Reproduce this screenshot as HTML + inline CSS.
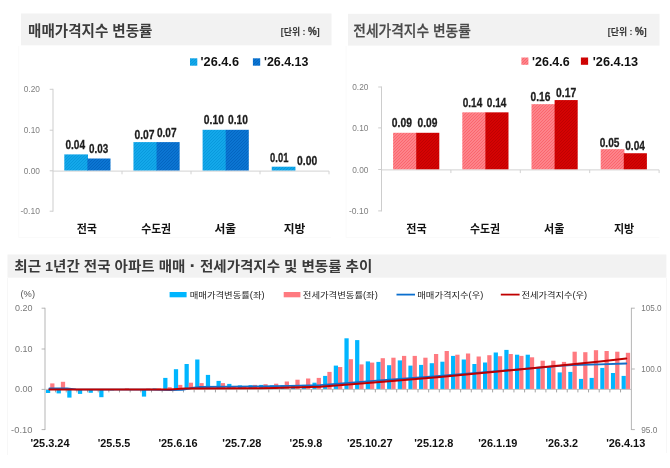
<!DOCTYPE html>
<html lang="ko"><head><meta charset="utf-8"><title>주간 아파트 가격 동향</title>
<style>
html,body{margin:0;padding:0;background:#fff;}
body{width:670px;height:468px;overflow:hidden;font-family:"Liberation Sans","Noto Sans CJK KR",sans-serif;}
svg{display:block;filter:blur(0.35px);}
svg text{font-family:"Liberation Sans","Noto Sans CJK KR",sans-serif;}
</style></head><body>
<svg width="670" height="468" viewBox="0 0 670 468">
<defs>
<pattern id="hb1" width="6" height="6" patternUnits="userSpaceOnUse"><rect width="6" height="6" fill="#17aef0"/><path d="M-1 1L1 -1M-1 4L4 -1M-1 7L7 -1M2 7L7 2M5 7L7 5" stroke="#0898dc" stroke-width="1.06" fill="none"/></pattern>
<pattern id="hb2" width="6" height="6" patternUnits="userSpaceOnUse"><rect width="6" height="6" fill="#0e7bda"/><path d="M-1 1L1 -1M-1 4L4 -1M-1 7L7 -1M2 7L7 2M5 7L7 5" stroke="#0364c0" stroke-width="1.06" fill="none"/></pattern>
<pattern id="hr1" width="6" height="6" patternUnits="userSpaceOnUse"><rect width="6" height="6" fill="#ff9096"/><path d="M-1 1L1 -1M-1 4L4 -1M-1 7L7 -1M2 7L7 2M5 7L7 5" stroke="#fa636b" stroke-width="1.06" fill="none"/></pattern>
<pattern id="hr2" width="6" height="6" patternUnits="userSpaceOnUse"><rect width="6" height="6" fill="#de0404"/><path d="M-1 1L1 -1M-1 4L4 -1M-1 7L7 -1M2 7L7 2M5 7L7 5" stroke="#be0000" stroke-width="1.06" fill="none"/></pattern>
</defs>
<rect width="670" height="468" fill="#fff"/>
<rect x="21" y="13.5" width="310.5" height="31.8" fill="#f2f2f2"/>
<rect x="348" y="13.8" width="311.5" height="31.8" fill="#f2f2f2"/>
<rect x="7.5" y="254.5" width="658.9" height="23.2" fill="#f2f2f2"/>
<text x="28" y="35.9" font-size="15.2" fill="#3c3c3c" font-weight="bold" text-anchor="start" textLength="124.5" lengthAdjust="spacingAndGlyphs" >매매가격지수 변동률</text>
<text x="353.3" y="35.9" font-size="14.5" fill="#4a4a4a" font-weight="500" text-anchor="start" textLength="117.5" lengthAdjust="spacingAndGlyphs" stroke="#4a4a4a" stroke-width="0.25">전세가격지수 변동률</text>
<text x="280.8" y="35.3" font-size="9.5" fill="#333" font-weight="bold" text-anchor="start" textLength="39" lengthAdjust="spacingAndGlyphs" >[단위 : <tspan font-size="10.5" stroke="#333" stroke-width="0.3">%</tspan>]</text>
<text x="607.8" y="35.3" font-size="9.5" fill="#333" font-weight="bold" text-anchor="start" textLength="39" lengthAdjust="spacingAndGlyphs" >[단위 : <tspan font-size="10.5" stroke="#333" stroke-width="0.3">%</tspan>]</text>
<text x="14.3" y="271.3" font-size="13.5" fill="#3a3a3a" font-weight="bold" text-anchor="start" textLength="358" lengthAdjust="spacingAndGlyphs" >최근 1년간 전국 아파트 매매 <tspan font-size="18" dy="0.9">·</tspan><tspan dy="-0.9"> 전세가격지수 및 변동률 추이</tspan></text>
<path d="M53 88.8V211.7" stroke="#cdcdcd" stroke-width="1" fill="none"/>
<path d="M49.7 89.3H53" stroke="#cdcdcd" stroke-width="1"/>
<text x="39.9" y="92.4" font-size="8.8" fill="#808080" font-weight="normal" text-anchor="end" textLength="16.2" lengthAdjust="spacingAndGlyphs" >0.20</text>
<path d="M49.7 130.2H53" stroke="#cdcdcd" stroke-width="1"/>
<text x="39.9" y="133.3" font-size="8.8" fill="#808080" font-weight="normal" text-anchor="end" textLength="16.2" lengthAdjust="spacingAndGlyphs" >0.10</text>
<path d="M49.7 170.8H53" stroke="#cdcdcd" stroke-width="1"/>
<text x="39.9" y="173.9" font-size="8.8" fill="#808080" font-weight="normal" text-anchor="end" textLength="16.2" lengthAdjust="spacingAndGlyphs" >0.00</text>
<path d="M49.7 211.2H53" stroke="#cdcdcd" stroke-width="1"/>
<text x="39.9" y="214.3" font-size="8.8" fill="#808080" font-weight="normal" text-anchor="end" textLength="19.4" lengthAdjust="spacingAndGlyphs" >-0.10</text>
<path d="M53 171.10000000000002H329" stroke="#d2d2d2" stroke-width="1"/>
<path d="M122.0 171.10000000000002v3.2" stroke="#d2d2d2" stroke-width="1"/>
<path d="M191.0 171.10000000000002v3.2" stroke="#d2d2d2" stroke-width="1"/>
<path d="M260.0 171.10000000000002v3.2" stroke="#d2d2d2" stroke-width="1"/>
<path d="M329.0 171.10000000000002v3.2" stroke="#d2d2d2" stroke-width="1"/>
<rect x="64.30" y="154.40" width="23.700000000000003" height="16.10" fill="url(#hb1)"/>
<rect x="87.40" y="158.50" width="23.1" height="12.00" fill="url(#hb2)"/>
<rect x="133.45" y="142.10" width="23.700000000000003" height="28.40" fill="url(#hb1)"/>
<rect x="156.55" y="142.10" width="23.1" height="28.40" fill="url(#hb2)"/>
<rect x="202.60" y="129.80" width="23.700000000000003" height="40.70" fill="url(#hb1)"/>
<rect x="225.70" y="129.80" width="23.1" height="40.70" fill="url(#hb2)"/>
<rect x="271.75" y="166.70" width="23.700000000000003" height="3.80" fill="url(#hb1)"/>
<text x="65.4" y="149" font-size="13.7" fill="#1c1c1c" font-weight="bold" text-anchor="start" textLength="19.7" lengthAdjust="spacingAndGlyphs" stroke="#1c1c1c" stroke-width="0.3">0.04</text>
<text x="89.1" y="152.8" font-size="13.7" fill="#1c1c1c" font-weight="bold" text-anchor="start" textLength="19.2" lengthAdjust="spacingAndGlyphs" stroke="#1c1c1c" stroke-width="0.3">0.03</text>
<text x="134.5" y="138.6" font-size="13.7" fill="#1c1c1c" font-weight="bold" text-anchor="start" textLength="20.1" lengthAdjust="spacingAndGlyphs" stroke="#1c1c1c" stroke-width="0.3">0.07</text>
<text x="156.9" y="137.1" font-size="13.7" fill="#1c1c1c" font-weight="bold" text-anchor="start" textLength="19.6" lengthAdjust="spacingAndGlyphs" stroke="#1c1c1c" stroke-width="0.3">0.07</text>
<text x="203.8" y="124.2" font-size="13.7" fill="#1c1c1c" font-weight="bold" text-anchor="start" textLength="20.1" lengthAdjust="spacingAndGlyphs" stroke="#1c1c1c" stroke-width="0.3">0.10</text>
<text x="228.1" y="123.5" font-size="13.7" fill="#1c1c1c" font-weight="bold" text-anchor="start" textLength="19.9" lengthAdjust="spacingAndGlyphs" stroke="#1c1c1c" stroke-width="0.3">0.10</text>
<text x="270.1" y="161.8" font-size="13.7" fill="#1c1c1c" font-weight="bold" text-anchor="start" textLength="18.3" lengthAdjust="spacingAndGlyphs" stroke="#1c1c1c" stroke-width="0.3">0.01</text>
<text x="297.1" y="164.9" font-size="13.7" fill="#1c1c1c" font-weight="bold" text-anchor="start" textLength="20.1" lengthAdjust="spacingAndGlyphs" stroke="#1c1c1c" stroke-width="0.3">0.00</text>
<text x="76.7" y="233.1" font-size="11.6" fill="#111" font-weight="bold" text-anchor="start" textLength="20.3" lengthAdjust="spacingAndGlyphs" >전국</text>
<text x="141.2" y="233.1" font-size="11.6" fill="#111" font-weight="bold" text-anchor="start" textLength="29.9" lengthAdjust="spacingAndGlyphs" >수도권</text>
<text x="214.5" y="233.1" font-size="11.6" fill="#111" font-weight="bold" text-anchor="start" textLength="21.7" lengthAdjust="spacingAndGlyphs" >서울</text>
<text x="283.8" y="233.1" font-size="11.6" fill="#111" font-weight="bold" text-anchor="start" textLength="21.6" lengthAdjust="spacingAndGlyphs" >지방</text>
<path d="M381.5 86.5V211.4" stroke="#cdcdcd" stroke-width="1" fill="none"/>
<path d="M378.2 87H381.5" stroke="#cdcdcd" stroke-width="1"/>
<text x="368.4" y="90.1" font-size="8.8" fill="#808080" font-weight="normal" text-anchor="end" textLength="16.2" lengthAdjust="spacingAndGlyphs" >0.20</text>
<path d="M378.2 127.9H381.5" stroke="#cdcdcd" stroke-width="1"/>
<text x="368.4" y="131.0" font-size="8.8" fill="#808080" font-weight="normal" text-anchor="end" textLength="16.2" lengthAdjust="spacingAndGlyphs" >0.10</text>
<path d="M378.2 169.5H381.5" stroke="#cdcdcd" stroke-width="1"/>
<text x="368.4" y="172.6" font-size="8.8" fill="#808080" font-weight="normal" text-anchor="end" textLength="16.2" lengthAdjust="spacingAndGlyphs" >0.00</text>
<path d="M378.2 210.9H381.5" stroke="#cdcdcd" stroke-width="1"/>
<text x="368.4" y="214.0" font-size="8.8" fill="#808080" font-weight="normal" text-anchor="end" textLength="19.4" lengthAdjust="spacingAndGlyphs" >-0.10</text>
<path d="M381.5 169.9H659.1" stroke="#d2d2d2" stroke-width="1"/>
<path d="M450.9 169.9v3.2" stroke="#d2d2d2" stroke-width="1"/>
<path d="M520.3 169.9v3.2" stroke="#d2d2d2" stroke-width="1"/>
<path d="M589.7 169.9v3.2" stroke="#d2d2d2" stroke-width="1"/>
<path d="M659.1 169.9v3.2" stroke="#d2d2d2" stroke-width="1"/>
<rect x="393.10" y="132.79" width="23.700000000000003" height="36.51" fill="url(#hr1)"/>
<rect x="416.20" y="132.79" width="23.1" height="36.51" fill="url(#hr2)"/>
<rect x="462.30" y="112.34" width="23.700000000000003" height="56.96" fill="url(#hr1)"/>
<rect x="485.40" y="112.34" width="23.1" height="56.96" fill="url(#hr2)"/>
<rect x="531.50" y="104.16" width="23.700000000000003" height="65.14" fill="url(#hr1)"/>
<rect x="554.60" y="100.07" width="23.1" height="69.23" fill="url(#hr2)"/>
<rect x="600.70" y="149.15" width="23.700000000000003" height="20.15" fill="url(#hr1)"/>
<rect x="623.80" y="153.24" width="23.1" height="16.06" fill="url(#hr2)"/>
<text x="391.8" y="126.9" font-size="13.7" fill="#1c1c1c" font-weight="bold" text-anchor="start" textLength="20.1" lengthAdjust="spacingAndGlyphs" stroke="#1c1c1c" stroke-width="0.3">0.09</text>
<text x="417.5" y="126.9" font-size="13.7" fill="#1c1c1c" font-weight="bold" text-anchor="start" textLength="19.9" lengthAdjust="spacingAndGlyphs" stroke="#1c1c1c" stroke-width="0.3">0.09</text>
<text x="462.7" y="107.2" font-size="13.7" fill="#1c1c1c" font-weight="bold" text-anchor="start" textLength="19.6" lengthAdjust="spacingAndGlyphs" stroke="#1c1c1c" stroke-width="0.3">0.14</text>
<text x="486.8" y="107.2" font-size="13.7" fill="#1c1c1c" font-weight="bold" text-anchor="start" textLength="19.6" lengthAdjust="spacingAndGlyphs" stroke="#1c1c1c" stroke-width="0.3">0.14</text>
<text x="530.6" y="101.1" font-size="13.7" fill="#1c1c1c" font-weight="bold" text-anchor="start" textLength="19.9" lengthAdjust="spacingAndGlyphs" stroke="#1c1c1c" stroke-width="0.3">0.16</text>
<text x="556.1" y="96.9" font-size="13.7" fill="#1c1c1c" font-weight="bold" text-anchor="start" textLength="20.1" lengthAdjust="spacingAndGlyphs" stroke="#1c1c1c" stroke-width="0.3">0.17</text>
<text x="599.7" y="146.8" font-size="13.7" fill="#1c1c1c" font-weight="bold" text-anchor="start" textLength="19.7" lengthAdjust="spacingAndGlyphs" stroke="#1c1c1c" stroke-width="0.3">0.05</text>
<text x="625.2" y="150" font-size="13.7" fill="#1c1c1c" font-weight="bold" text-anchor="start" textLength="19.7" lengthAdjust="spacingAndGlyphs" stroke="#1c1c1c" stroke-width="0.3">0.04</text>
<text x="406.3" y="233.1" font-size="11.6" fill="#111" font-weight="bold" text-anchor="start" textLength="20.4" lengthAdjust="spacingAndGlyphs" >전국</text>
<text x="470.0" y="233.1" font-size="11.6" fill="#111" font-weight="bold" text-anchor="start" textLength="30.1" lengthAdjust="spacingAndGlyphs" >수도권</text>
<text x="544.0" y="233.1" font-size="11.6" fill="#111" font-weight="bold" text-anchor="start" textLength="20.3" lengthAdjust="spacingAndGlyphs" >서울</text>
<text x="613.9" y="233.1" font-size="11.6" fill="#111" font-weight="bold" text-anchor="start" textLength="20.3" lengthAdjust="spacingAndGlyphs" >지방</text>
<path d="M7.5 278V455M666.4 278V453" stroke="#f7f7f7" stroke-width="1" fill="none"/>
<path d="M18.8 46V237.5M346 46V237.5M18.8 237.5H331M346 237.5H659.5" stroke="#fafafa" stroke-width="1" fill="none"/>
<rect x="190" y="58.3" width="7.3" height="7.4" fill="url(#hb1)"/>
<text x="200.6" y="66.4" font-size="13.1" fill="#111" font-weight="bold" text-anchor="start" textLength="38.4" lengthAdjust="spacingAndGlyphs" >'26.4.6</text>
<rect x="252.9" y="58.3" width="7.3" height="7.4" fill="url(#hb2)"/>
<text x="264" y="66.4" font-size="13.1" fill="#111" font-weight="bold" text-anchor="start" textLength="44.4" lengthAdjust="spacingAndGlyphs" >'26.4.13</text>
<rect x="521.4" y="57.5" width="7" height="7.3" fill="url(#hr1)"/>
<text x="532.1" y="65.7" font-size="13.1" fill="#111" font-weight="bold" text-anchor="start" textLength="37.6" lengthAdjust="spacingAndGlyphs" >'26.4.6</text>
<rect x="580.9" y="57.5" width="7.2" height="7.3" fill="url(#hr2)"/>
<text x="592.8" y="65.7" font-size="13.1" fill="#111" font-weight="bold" text-anchor="start" textLength="45.4" lengthAdjust="spacingAndGlyphs" >'26.4.13</text>
<g>
<rect x="45.95" y="389.40" width="4.25" height="3.60" fill="#00b6ff"/>
<rect x="50.20" y="383.40" width="4.25" height="6.00" fill="#ff7a80"/>
<rect x="56.61" y="389.40" width="4.25" height="4.00" fill="#00b6ff"/>
<rect x="60.86" y="381.80" width="4.25" height="7.60" fill="#ff7a80"/>
<rect x="67.27" y="389.40" width="4.25" height="8.20" fill="#00b6ff"/>
<rect x="77.93" y="389.40" width="4.25" height="4.50" fill="#00b6ff"/>
<rect x="88.59" y="389.40" width="4.25" height="3.40" fill="#00b6ff"/>
<rect x="99.25" y="389.40" width="4.25" height="7.80" fill="#00b6ff"/>
<rect x="109.91" y="389.40" width="4.25" height="1.00" fill="#00b6ff"/>
<rect x="124.82" y="388.40" width="4.25" height="1.00" fill="#ff7a80"/>
<rect x="141.89" y="389.40" width="4.25" height="7.20" fill="#00b6ff"/>
<rect x="146.14" y="388.60" width="4.25" height="0.80" fill="#ff7a80"/>
<rect x="152.55" y="388.40" width="4.25" height="1.00" fill="#00b6ff"/>
<rect x="156.80" y="388.40" width="4.25" height="1.00" fill="#ff7a80"/>
<rect x="163.21" y="377.90" width="4.25" height="11.50" fill="#00b6ff"/>
<rect x="167.46" y="387.20" width="4.25" height="2.20" fill="#ff7a80"/>
<rect x="173.87" y="369.20" width="4.25" height="20.20" fill="#00b6ff"/>
<rect x="178.12" y="384.90" width="4.25" height="4.50" fill="#ff7a80"/>
<rect x="184.53" y="364.00" width="4.25" height="25.40" fill="#00b6ff"/>
<rect x="188.78" y="382.70" width="4.25" height="6.70" fill="#ff7a80"/>
<rect x="195.19" y="359.50" width="4.25" height="29.90" fill="#00b6ff"/>
<rect x="199.44" y="383.10" width="4.25" height="6.30" fill="#ff7a80"/>
<rect x="205.85" y="374.90" width="4.25" height="14.50" fill="#00b6ff"/>
<rect x="216.51" y="380.90" width="4.25" height="8.50" fill="#00b6ff"/>
<rect x="220.76" y="383.10" width="4.25" height="6.30" fill="#ff7a80"/>
<rect x="227.17" y="383.90" width="4.25" height="5.50" fill="#00b6ff"/>
<rect x="231.42" y="386.90" width="4.25" height="2.50" fill="#ff7a80"/>
<rect x="237.83" y="385.40" width="4.25" height="4.00" fill="#00b6ff"/>
<rect x="242.08" y="386.90" width="4.25" height="2.50" fill="#ff7a80"/>
<rect x="248.49" y="385.20" width="4.25" height="4.20" fill="#00b6ff"/>
<rect x="252.74" y="384.90" width="4.25" height="4.50" fill="#ff7a80"/>
<rect x="259.15" y="384.90" width="4.25" height="4.50" fill="#00b6ff"/>
<rect x="263.40" y="384.20" width="4.25" height="5.20" fill="#ff7a80"/>
<rect x="269.81" y="385.40" width="4.25" height="4.00" fill="#00b6ff"/>
<rect x="274.06" y="383.70" width="4.25" height="5.70" fill="#ff7a80"/>
<rect x="280.47" y="385.40" width="4.25" height="4.00" fill="#00b6ff"/>
<rect x="284.72" y="381.50" width="4.25" height="7.90" fill="#ff7a80"/>
<rect x="291.13" y="385.40" width="4.25" height="4.00" fill="#00b6ff"/>
<rect x="295.38" y="379.70" width="4.25" height="9.70" fill="#ff7a80"/>
<rect x="301.79" y="384.90" width="4.25" height="4.50" fill="#00b6ff"/>
<rect x="306.04" y="378.50" width="4.25" height="10.90" fill="#ff7a80"/>
<rect x="312.45" y="382.70" width="4.25" height="6.70" fill="#00b6ff"/>
<rect x="316.70" y="377.90" width="4.25" height="11.50" fill="#ff7a80"/>
<rect x="323.11" y="375.90" width="4.25" height="13.50" fill="#00b6ff"/>
<rect x="327.36" y="371.90" width="4.25" height="17.50" fill="#ff7a80"/>
<rect x="333.77" y="365.60" width="4.25" height="23.80" fill="#00b6ff"/>
<rect x="338.02" y="367.00" width="4.25" height="22.40" fill="#ff7a80"/>
<rect x="344.43" y="338.30" width="4.25" height="51.10" fill="#00b6ff"/>
<rect x="348.68" y="359.20" width="4.25" height="30.20" fill="#ff7a80"/>
<rect x="355.09" y="340.10" width="4.25" height="49.30" fill="#00b6ff"/>
<rect x="359.34" y="364.40" width="4.25" height="25.00" fill="#ff7a80"/>
<rect x="365.75" y="361.40" width="4.25" height="28.00" fill="#00b6ff"/>
<rect x="370.00" y="362.60" width="4.25" height="26.80" fill="#ff7a80"/>
<rect x="376.41" y="361.90" width="4.25" height="27.50" fill="#00b6ff"/>
<rect x="380.66" y="358.20" width="4.25" height="31.20" fill="#ff7a80"/>
<rect x="387.07" y="365.20" width="4.25" height="24.20" fill="#00b6ff"/>
<rect x="391.32" y="357.70" width="4.25" height="31.70" fill="#ff7a80"/>
<rect x="397.73" y="360.40" width="4.25" height="29.00" fill="#00b6ff"/>
<rect x="401.98" y="355.90" width="4.25" height="33.50" fill="#ff7a80"/>
<rect x="408.39" y="365.60" width="4.25" height="23.80" fill="#00b6ff"/>
<rect x="412.64" y="355.90" width="4.25" height="33.50" fill="#ff7a80"/>
<rect x="419.05" y="364.90" width="4.25" height="24.50" fill="#00b6ff"/>
<rect x="423.30" y="357.70" width="4.25" height="31.70" fill="#ff7a80"/>
<rect x="429.71" y="363.20" width="4.25" height="26.20" fill="#00b6ff"/>
<rect x="433.96" y="354.00" width="4.25" height="35.40" fill="#ff7a80"/>
<rect x="440.37" y="361.70" width="4.25" height="27.70" fill="#00b6ff"/>
<rect x="444.62" y="351.00" width="4.25" height="38.40" fill="#ff7a80"/>
<rect x="451.03" y="355.90" width="4.25" height="33.50" fill="#00b6ff"/>
<rect x="455.28" y="354.70" width="4.25" height="34.70" fill="#ff7a80"/>
<rect x="461.69" y="359.50" width="4.25" height="29.90" fill="#00b6ff"/>
<rect x="465.94" y="353.50" width="4.25" height="35.90" fill="#ff7a80"/>
<rect x="472.35" y="364.00" width="4.25" height="25.40" fill="#00b6ff"/>
<rect x="476.60" y="356.50" width="4.25" height="32.90" fill="#ff7a80"/>
<rect x="483.01" y="362.50" width="4.25" height="26.90" fill="#00b6ff"/>
<rect x="487.26" y="355.20" width="4.25" height="34.20" fill="#ff7a80"/>
<rect x="493.67" y="352.50" width="4.25" height="36.90" fill="#00b6ff"/>
<rect x="497.92" y="356.20" width="4.25" height="33.20" fill="#ff7a80"/>
<rect x="504.33" y="349.90" width="4.25" height="39.50" fill="#00b6ff"/>
<rect x="508.58" y="354.00" width="4.25" height="35.40" fill="#ff7a80"/>
<rect x="514.99" y="354.70" width="4.25" height="34.70" fill="#00b6ff"/>
<rect x="519.24" y="355.90" width="4.25" height="33.50" fill="#ff7a80"/>
<rect x="525.65" y="354.70" width="4.25" height="34.70" fill="#00b6ff"/>
<rect x="529.90" y="357.30" width="4.25" height="32.10" fill="#ff7a80"/>
<rect x="536.31" y="366.90" width="4.25" height="22.50" fill="#00b6ff"/>
<rect x="540.56" y="360.70" width="4.25" height="28.70" fill="#ff7a80"/>
<rect x="546.97" y="366.90" width="4.25" height="22.50" fill="#00b6ff"/>
<rect x="551.22" y="360.70" width="4.25" height="28.70" fill="#ff7a80"/>
<rect x="557.63" y="372.40" width="4.25" height="17.00" fill="#00b6ff"/>
<rect x="561.88" y="361.90" width="4.25" height="27.50" fill="#ff7a80"/>
<rect x="568.29" y="371.90" width="4.25" height="17.50" fill="#00b6ff"/>
<rect x="572.54" y="351.70" width="4.25" height="37.70" fill="#ff7a80"/>
<rect x="578.95" y="378.90" width="4.25" height="10.50" fill="#00b6ff"/>
<rect x="583.20" y="352.20" width="4.25" height="37.20" fill="#ff7a80"/>
<rect x="589.61" y="377.90" width="4.25" height="11.50" fill="#00b6ff"/>
<rect x="593.86" y="350.20" width="4.25" height="39.20" fill="#ff7a80"/>
<rect x="600.27" y="367.90" width="4.25" height="21.50" fill="#00b6ff"/>
<rect x="604.52" y="351.00" width="4.25" height="38.40" fill="#ff7a80"/>
<rect x="610.93" y="373.00" width="4.25" height="16.40" fill="#00b6ff"/>
<rect x="615.18" y="351.70" width="4.25" height="37.70" fill="#ff7a80"/>
<rect x="621.59" y="375.90" width="4.25" height="13.50" fill="#00b6ff"/>
<rect x="625.84" y="352.80" width="4.25" height="36.60" fill="#ff7a80"/>
</g>
<path d="M45 307.8V430" stroke="#a8a8a8" stroke-width="0.85" fill="none"/>
<path d="M41.6 308.2H45" stroke="#a8a8a8" stroke-width="0.85"/>
<text x="32.4" y="311.2" font-size="8.6" fill="#7a7a7a" font-weight="normal" text-anchor="end" textLength="17.5" lengthAdjust="spacingAndGlyphs" >0.20</text>
<path d="M41.6 349H45" stroke="#a8a8a8" stroke-width="0.85"/>
<text x="32.4" y="352" font-size="8.6" fill="#7a7a7a" font-weight="normal" text-anchor="end" textLength="17.5" lengthAdjust="spacingAndGlyphs" >0.10</text>
<path d="M41.6 389.4H45" stroke="#a8a8a8" stroke-width="0.85"/>
<text x="32.4" y="392.4" font-size="8.6" fill="#7a7a7a" font-weight="normal" text-anchor="end" textLength="17.5" lengthAdjust="spacingAndGlyphs" >0.00</text>
<path d="M41.6 429.6H45" stroke="#a8a8a8" stroke-width="0.85"/>
<text x="32.4" y="432.6" font-size="8.6" fill="#7a7a7a" font-weight="normal" text-anchor="end" textLength="21.3" lengthAdjust="spacingAndGlyphs" >-0.10</text>
<text x="20.5" y="297.3" font-size="8.6" fill="#555" font-weight="normal" text-anchor="start" textLength="14.5" lengthAdjust="spacingAndGlyphs" >(%)</text>
<path d="M45 389.4H631.3" stroke="#c4c4c4" stroke-width="1"/>
<path d="M55.56 389.4v3" stroke="#999" stroke-width="0.9"/>
<path d="M66.22 389.4v3" stroke="#999" stroke-width="0.9"/>
<path d="M76.88 389.4v3" stroke="#999" stroke-width="0.9"/>
<path d="M87.54 389.4v3" stroke="#999" stroke-width="0.9"/>
<path d="M98.20 389.4v3" stroke="#999" stroke-width="0.9"/>
<path d="M108.86 389.4v3" stroke="#999" stroke-width="0.9"/>
<path d="M119.52 389.4v3" stroke="#999" stroke-width="0.9"/>
<path d="M130.18 389.4v3" stroke="#999" stroke-width="0.9"/>
<path d="M140.84 389.4v3" stroke="#999" stroke-width="0.9"/>
<path d="M151.50 389.4v3" stroke="#999" stroke-width="0.9"/>
<path d="M162.16 389.4v3" stroke="#999" stroke-width="0.9"/>
<path d="M172.82 389.4v3" stroke="#999" stroke-width="0.9"/>
<path d="M183.48 389.4v3" stroke="#999" stroke-width="0.9"/>
<path d="M194.14 389.4v3" stroke="#999" stroke-width="0.9"/>
<path d="M204.80 389.4v3" stroke="#999" stroke-width="0.9"/>
<path d="M215.46 389.4v3" stroke="#999" stroke-width="0.9"/>
<path d="M226.12 389.4v3" stroke="#999" stroke-width="0.9"/>
<path d="M236.78 389.4v3" stroke="#999" stroke-width="0.9"/>
<path d="M247.44 389.4v3" stroke="#999" stroke-width="0.9"/>
<path d="M258.10 389.4v3" stroke="#999" stroke-width="0.9"/>
<path d="M268.76 389.4v3" stroke="#999" stroke-width="0.9"/>
<path d="M279.42 389.4v3" stroke="#999" stroke-width="0.9"/>
<path d="M290.08 389.4v3" stroke="#999" stroke-width="0.9"/>
<path d="M300.74 389.4v3" stroke="#999" stroke-width="0.9"/>
<path d="M311.40 389.4v3" stroke="#999" stroke-width="0.9"/>
<path d="M322.06 389.4v3" stroke="#999" stroke-width="0.9"/>
<path d="M332.72 389.4v3" stroke="#999" stroke-width="0.9"/>
<path d="M343.38 389.4v3" stroke="#999" stroke-width="0.9"/>
<path d="M354.04 389.4v3" stroke="#999" stroke-width="0.9"/>
<path d="M364.70 389.4v3" stroke="#999" stroke-width="0.9"/>
<path d="M375.36 389.4v3" stroke="#999" stroke-width="0.9"/>
<path d="M386.02 389.4v3" stroke="#999" stroke-width="0.9"/>
<path d="M396.68 389.4v3" stroke="#999" stroke-width="0.9"/>
<path d="M407.34 389.4v3" stroke="#999" stroke-width="0.9"/>
<path d="M418.00 389.4v3" stroke="#999" stroke-width="0.9"/>
<path d="M428.66 389.4v3" stroke="#999" stroke-width="0.9"/>
<path d="M439.32 389.4v3" stroke="#999" stroke-width="0.9"/>
<path d="M449.98 389.4v3" stroke="#999" stroke-width="0.9"/>
<path d="M460.64 389.4v3" stroke="#999" stroke-width="0.9"/>
<path d="M471.30 389.4v3" stroke="#999" stroke-width="0.9"/>
<path d="M481.96 389.4v3" stroke="#999" stroke-width="0.9"/>
<path d="M492.62 389.4v3" stroke="#999" stroke-width="0.9"/>
<path d="M503.28 389.4v3" stroke="#999" stroke-width="0.9"/>
<path d="M513.94 389.4v3" stroke="#999" stroke-width="0.9"/>
<path d="M524.60 389.4v3" stroke="#999" stroke-width="0.9"/>
<path d="M535.26 389.4v3" stroke="#999" stroke-width="0.9"/>
<path d="M545.92 389.4v3" stroke="#999" stroke-width="0.9"/>
<path d="M556.58 389.4v3" stroke="#999" stroke-width="0.9"/>
<path d="M567.24 389.4v3" stroke="#999" stroke-width="0.9"/>
<path d="M577.90 389.4v3" stroke="#999" stroke-width="0.9"/>
<path d="M588.56 389.4v3" stroke="#999" stroke-width="0.9"/>
<path d="M599.22 389.4v3" stroke="#999" stroke-width="0.9"/>
<path d="M609.88 389.4v3" stroke="#999" stroke-width="0.9"/>
<path d="M620.54 389.4v3" stroke="#999" stroke-width="0.9"/>
<path d="M631.4 307.8V430" stroke="#a8a8a8" stroke-width="0.85" fill="none"/>
<path d="M631.4 308.2h3.4" stroke="#a8a8a8" stroke-width="0.85"/>
<text x="641.2" y="311.2" font-size="8.6" fill="#7a7a7a" font-weight="normal" text-anchor="start" textLength="20.3" lengthAdjust="spacingAndGlyphs" >105.0</text>
<path d="M631.4 369h3.4" stroke="#a8a8a8" stroke-width="0.85"/>
<text x="641.2" y="372" font-size="8.6" fill="#7a7a7a" font-weight="normal" text-anchor="start" textLength="20.3" lengthAdjust="spacingAndGlyphs" >100.0</text>
<path d="M631.4 429.6h3.4" stroke="#a8a8a8" stroke-width="0.85"/>
<text x="641.2" y="432.6" font-size="8.6" fill="#7a7a7a" font-weight="normal" text-anchor="start" textLength="16.2" lengthAdjust="spacingAndGlyphs" >95.0</text>
<path d="M49.4 388.4 L67.0 388.4 L76.0 389.4 L150.0 389.6 L170.0 390.1 L182.0 389.8 L192.0 388.0 L200.0 387.0 L230.0 386.6 L260.0 386.3 L290.0 385.8 L320.0 385.2 L380.0 380.3 L440.0 376.0 L500.0 371.0 L560.0 365.9 L572.0 365.0 L600.0 364.4 L626.3 363.5" stroke="#146ec8" stroke-width="1.8" fill="none" stroke-linejoin="round" stroke-linecap="round"/>
<path d="M49.4 389.5 L170.0 389.5 L185.0 388.6 L200.0 388.4 L260.0 388.3 L275.0 388.1 L290.0 387.6 L320.0 386.7 L380.0 382.0 L440.0 376.9 L500.0 371.2 L560.0 365.6 L600.0 361.6 L626.3 358.5" stroke="#be0000" stroke-width="2.0" fill="none" stroke-linejoin="round" stroke-linecap="round"/>
<text x="50.0" y="447.1" font-size="10.1" fill="#111" font-weight="bold" text-anchor="middle" textLength="39.1" lengthAdjust="spacingAndGlyphs" >'25.3.24</text>
<text x="114.0" y="447.1" font-size="10.1" fill="#111" font-weight="bold" text-anchor="middle" textLength="32.6" lengthAdjust="spacingAndGlyphs" >'25.5.5</text>
<text x="178.0" y="447.1" font-size="10.1" fill="#111" font-weight="bold" text-anchor="middle" textLength="39.1" lengthAdjust="spacingAndGlyphs" >'25.6.16</text>
<text x="241.9" y="447.1" font-size="10.1" fill="#111" font-weight="bold" text-anchor="middle" textLength="39.1" lengthAdjust="spacingAndGlyphs" >'25.7.28</text>
<text x="305.9" y="447.1" font-size="10.1" fill="#111" font-weight="bold" text-anchor="middle" textLength="32.6" lengthAdjust="spacingAndGlyphs" >'25.9.8</text>
<text x="369.8" y="447.1" font-size="10.1" fill="#111" font-weight="bold" text-anchor="middle" textLength="45.6" lengthAdjust="spacingAndGlyphs" >'25.10.27</text>
<text x="433.8" y="447.1" font-size="10.1" fill="#111" font-weight="bold" text-anchor="middle" textLength="39.1" lengthAdjust="spacingAndGlyphs" >'25.12.8</text>
<text x="497.8" y="447.1" font-size="10.1" fill="#111" font-weight="bold" text-anchor="middle" textLength="39.1" lengthAdjust="spacingAndGlyphs" >'26.1.19</text>
<text x="561.7" y="447.1" font-size="10.1" fill="#111" font-weight="bold" text-anchor="middle" textLength="32.6" lengthAdjust="spacingAndGlyphs" >'26.3.2</text>
<text x="625.7" y="447.1" font-size="10.1" fill="#111" font-weight="bold" text-anchor="middle" textLength="39.1" lengthAdjust="spacingAndGlyphs" >'26.4.13</text>
<rect x="169.6" y="292" width="17" height="5.3" fill="#00b6ff"/>
<text x="189.7" y="297.6" font-size="8.4" fill="#222" font-weight="normal" text-anchor="start" textLength="75" lengthAdjust="spacingAndGlyphs" >매매가격변동률(좌)</text>
<rect x="283.7" y="292" width="16.7" height="5.3" fill="#ff7a80"/>
<text x="302.8" y="297.6" font-size="8.4" fill="#222" font-weight="normal" text-anchor="start" textLength="75" lengthAdjust="spacingAndGlyphs" >전세가격변동률(좌)</text>
<path d="M396.5 294.6H415" stroke="#0b6fce" stroke-width="1.8"/>
<text x="417.3" y="297.6" font-size="8.4" fill="#222" font-weight="normal" text-anchor="start" textLength="66" lengthAdjust="spacingAndGlyphs" >매매가격지수(우)</text>
<path d="M500.8 294.6H519.6" stroke="#c00000" stroke-width="1.8"/>
<text x="521.6" y="297.6" font-size="8.4" fill="#222" font-weight="normal" text-anchor="start" textLength="65.6" lengthAdjust="spacingAndGlyphs" >전세가격지수(우)</text>
</svg></body></html>
